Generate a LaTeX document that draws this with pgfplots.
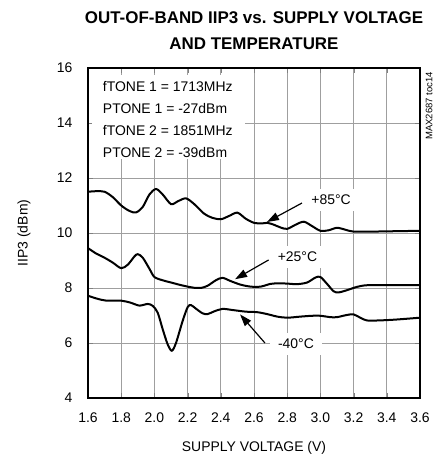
\documentclass[border=0pt]{standalone}
\usepackage{pgfplots}
\pgfplotsset{compat=1.18}
\usetikzlibrary{arrows.meta}
\usepackage{fontspec}
\setmainfont{Liberation Sans}
\newcommand\tickfont{\fontsize{14}{16}\selectfont}
\begin{document}
\begin{tikzpicture}
\path (-88bp,-64bp) (360bp,398bp);
\begin{axis}[
  set layers,
  grid=major,
  major grid style={draw=gray!75, line width=0.9bp},
  axis line style={line width=2.2bp},
  major tick length=5bp,
  at={(0,0)}, anchor=south west,
  scale only axis, width=332bp, height=330bp,
  xmin=1.6, xmax=3.6, ymin=4, ymax=16,
  xtick={1.6,1.8,2.0,2.2,2.4,2.6,2.8,3.0,3.2,3.4,3.6},
  xticklabels={1.6,1.8,2.0,2.2,2.4,2.6,2.8,3.0,3.2,3.4,3.6},
  ytick={4,6,8,10,12,14,16},
  yticklabels={4,6,8,10,12,14,16},
  ticklabel style={font=\tickfont},
  xticklabel style={yshift=-11bp},
  yticklabel style={xshift=-12bp},
]
\fill[white, on layer=pre main] (axis cs:1.624,12.70) rectangle (axis cs:2.546,15.75);
\node[anchor=north west, inner sep=0pt, align=left,
      font=\fontsize{14}{22}\selectfont] at (axis cs:1.689,15.52)
  {fTONE 1 = 1713MHz\\PTONE 1 = -27dBm\\fTONE 2 = 1851MHz\\PTONE 2 = -39dBm};

% +85 C
\addplot[black, line width=2bp, smooth, tension=0.5] coordinates {
(1.60,11.50) (1.65,11.52) (1.70,11.50) (1.75,11.30) (1.80,11.00) (1.85,10.80)
(1.89,10.75) (1.93,10.95) (1.97,11.40) (2.01,11.60) (2.05,11.40) (2.10,11.05)
(2.14,11.15) (2.19,11.26) (2.24,11.05) (2.30,10.70) (2.35,10.55) (2.40,10.50)
(2.45,10.62) (2.50,10.74) (2.55,10.52) (2.60,10.37) (2.65,10.35) (2.68,10.37)
(2.72,10.30) (2.76,10.20) (2.80,10.15) (2.85,10.30) (2.90,10.41) (2.95,10.25)
(3.00,10.08) (3.05,10.10) (3.10,10.19) (3.15,10.12) (3.20,10.05) (3.30,10.05)
(3.40,10.06) (3.50,10.07) (3.60,10.08)};

% +25 C
\addplot[black, line width=2bp, smooth, tension=0.5] coordinates {
(1.60,9.45) (1.65,9.25) (1.70,9.10) (1.75,8.92) (1.80,8.72) (1.84,8.85)
(1.88,9.15) (1.90,9.23) (1.93,9.10) (1.97,8.70) (2.00,8.40) (2.05,8.28)
(2.10,8.20) (2.15,8.12) (2.20,8.05) (2.25,8.00) (2.28,8.00) (2.32,8.08)
(2.37,8.28) (2.41,8.37) (2.46,8.25) (2.52,8.12) (2.58,8.05) (2.64,8.05)
(2.70,8.15) (2.75,8.17) (2.80,8.16) (2.86,8.14) (2.92,8.20) (2.97,8.38)
(3.00,8.40) (3.04,8.15) (3.08,7.88) (3.11,7.84) (3.16,7.92) (3.22,8.04)
(3.28,8.10) (3.40,8.10) (3.50,8.10) (3.60,8.10)};

% -40 C
\addplot[black, line width=2bp, smooth, tension=0.5] coordinates {
(1.60,7.72) (1.65,7.62) (1.71,7.54) (1.80,7.54) (1.86,7.46) (1.91,7.36)
(1.96,7.42) (1.99,7.35) (2.02,7.10) (2.05,6.50) (2.08,5.95) (2.105,5.72)
(2.13,6.00) (2.17,6.80) (2.20,7.30) (2.22,7.38) (2.25,7.25) (2.29,7.08)
(2.32,7.05) (2.36,7.15) (2.41,7.24) (2.47,7.20) (2.55,7.14) (2.62,7.12)
(2.68,7.05) (2.74,6.96) (2.80,6.92) (2.88,6.96) (2.95,6.99) (3.00,6.99)
(3.06,6.94) (3.10,6.94) (3.16,7.02) (3.20,7.04) (3.24,6.92) (3.28,6.82)
(3.35,6.82) (3.45,6.85) (3.60,6.92)};

\node[fill=white, inner xsep=4bp, inner ysep=6bp, font=\fontsize{14}{16}\selectfont]
  at (axis cs:3.064,11.2) {+85°C};
\node[fill=white, inner xsep=4bp, inner ysep=6bp, font=\fontsize{14}{16}\selectfont]
  at (axis cs:2.862,9.14) {+25°C};
\node[fill=white, inner xsep=8bp, inner ysep=6bp, font=\fontsize{14}{16}\selectfont]
  at (axis cs:2.853,5.96) {-40°C};
\draw[line width=1.2bp, -{Triangle[length=12bp,width=8bp]}] (axis cs:2.889,11.09) -- (axis cs:2.678,10.40);
\draw[line width=1.2bp, -{Triangle[length=12bp,width=8bp]}] (axis cs:2.688,9.02) -- (axis cs:2.486,8.32);
\draw[line width=1.2bp, -{Triangle[length=12bp,width=8bp]}] (axis cs:2.666,6.00) -- (axis cs:2.516,7.04);
\end{axis}
\node[anchor=base, font=\bfseries\fontsize{17}{20}\selectfont] at (166bp,374.5bp) {OUT-OF-BAND IIP3 vs. SUPPLY VOLTAGE};
\node[anchor=base, font=\bfseries\fontsize{17}{20}\selectfont] at (166bp,348.5bp) {AND TEMPERATURE};
\node[font=\fontsize{14}{16}\selectfont] at (166bp,-50bp) {SUPPLY VOLTAGE (V)};
\node[rotate=90, font=\fontsize{14}{16}\selectfont] at (-64bp,165bp) {IIP3 (dBm)};
\node[rotate=90, font=\fontsize{9.5}{11}\selectfont] at (341bp,292bp) {MAX2687 toc14};
\end{tikzpicture}
\end{document}
